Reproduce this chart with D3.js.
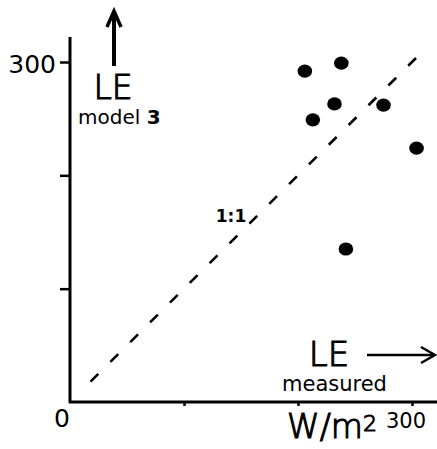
<!DOCTYPE html>
<html>
<head>
<meta charset="utf-8">
<script src="https://cdn.jsdelivr.net/npm/d3@7"></script>
<style>
  html, body { margin: 0; padding: 0; background: #fff; }
  svg { display: block; }
  text { font-family: "DejaVu Sans", sans-serif; fill: #000; }
  text.thin { font-weight: 300; stroke: #000; stroke-width: 1.1px; }
</style>
</head>
<body>
<script>
// ---- data ----
const measured = [206, 238, 232, 213, 275, 304, 242];
const model3   = [292, 299, 263, 249, 262, 224, 135];
const tickValues = [0, 100, 200, 300];
const oneToOne = [18, 305];
const axisMax = 322;

const W = 437, H = 449;
const svg = d3.select("body").append("svg").attr("width", W).attr("height", H);

const x = d3.scaleLinear().domain([0, 300]).range([70, 412]);
const y = d3.scaleLinear().domain([0, 300]).range([402, 62]);

// y axis
const yAxis = svg.append("g").attr("transform", `translate(${x(0)},0)`)
  .call(d3.axisLeft(y).tickValues(tickValues.filter(d => d > 0)).tickSize(10).tickSizeOuter(0).tickFormat(""));
yAxis.select(".domain").remove();
yAxis.selectAll(".tick line").attr("stroke", "#000").attr("stroke-width", 2.5);

// x axis
const xAxis = svg.append("g").attr("transform", `translate(0,${y(0)})`)
  .call(d3.axisBottom(x).tickValues(tickValues.filter(d => d > 0)).tickSize(4).tickSizeOuter(0).tickFormat(""));
xAxis.select(".domain").remove();
xAxis.selectAll(".tick line").attr("stroke", "#000").attr("stroke-width", 2.5);

// axis lines (extend beyond last tick)
svg.append("line").attr("x1", x(0)).attr("x2", x(0)).attr("y1", y(0) + 1).attr("y2", y(axisMax))
  .attr("stroke", "#000").attr("stroke-width", 3);
svg.append("line").attr("x1", x(0) - 1).attr("x2", x(axisMax)).attr("y1", y(0)).attr("y2", y(0))
  .attr("stroke", "#000").attr("stroke-width", 3);

// tick labels
svg.append("text").attr("x", x(0) - 14).attr("y", y(300) + 11).attr("text-anchor", "end")
  .attr("font-size", 25).text("300");
svg.append("text").attr("x", x(0) - 8).attr("y", y(0) + 25).attr("text-anchor", "middle")
  .attr("font-size", 25).text("0");
svg.append("text").attr("x", x(300) - 6).attr("y", y(0) + 26).attr("text-anchor", "middle")
  .attr("font-size", 21).text("300");

// units
const unit = svg.append("text").attr("class", "thin").attr("x", 287).attr("y", 438).attr("font-size", 33);
unit.append("tspan").text("W/m");
unit.append("tspan").attr("font-size", 22).attr("dy", -7).text("2");

// 1:1 dashed line
svg.append("line")
  .attr("x1", x(oneToOne[0])).attr("y1", y(oneToOne[0]))
  .attr("x2", x(oneToOne[1])).attr("y2", y(oneToOne[1]))
  .attr("stroke", "#000").attr("stroke-width", 2.6).attr("stroke-dasharray", "11,17");
svg.append("text").attr("x", x(150) - 10).attr("y", y(150) - 10).attr("text-anchor", "middle")
  .attr("font-size", 17).attr("font-weight", 600).text("1:1");

// points
svg.selectAll("ellipse.pt").data(measured.map((m, i) => [m, model3[i]])).enter()
  .append("ellipse").attr("class", "pt")
  .attr("cx", d => x(d[0])).attr("cy", d => y(d[1]))
  .attr("rx", 7.3).attr("ry", 6.6).attr("fill", "#000");

// y label with up arrow
svg.append("line").attr("x1", 114).attr("x2", 114).attr("y1", 14).attr("y2", 66)
  .attr("stroke", "#000").attr("stroke-width", 4);
svg.append("path").attr("d", "M107,27 L114,11 L121,27").attr("fill", "none")
  .attr("stroke", "#000").attr("stroke-width", 3.5).attr("stroke-linejoin", "miter");
svg.append("text").attr("class", "thin").attr("x", 113).attr("y", 99).attr("text-anchor", "middle")
  .attr("font-size", 33).text("LE");
const ml = svg.append("text").attr("x", 78).attr("y", 124).attr("font-size", 20);
ml.append("tspan").text("model ");
ml.append("tspan").attr("font-weight", "bold").text("3");

// x label with right arrow
svg.append("text").attr("class", "thin").attr("x", 329).attr("y", 366).attr("text-anchor", "middle")
  .attr("font-size", 34).text("LE");
svg.append("line").attr("x1", 367).attr("x2", 434).attr("y1", 355).attr("y2", 355)
  .attr("stroke", "#000").attr("stroke-width", 2.5);
svg.append("path").attr("d", "M421,347 L435,355 L421,363").attr("fill", "none")
  .attr("stroke", "#000").attr("stroke-width", 2.5);
svg.append("text").attr("x", 282).attr("y", 391).attr("font-size", 21).text("measured");
</script>
</body>
</html>
